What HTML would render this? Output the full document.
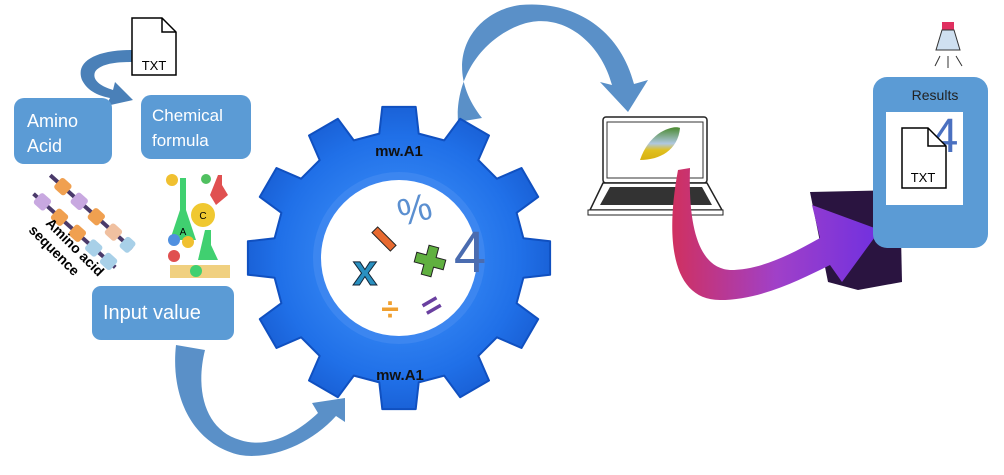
<!DOCTYPE html>
<html><head><meta charset="utf-8"><style>
body{margin:0;background:#fff;width:1004px;height:470px;overflow:hidden;font-family:"Liberation Sans",sans-serif}
</style></head><body>
<svg id="s" width="1004" height="470" viewBox="0 0 1004 470" xmlns="http://www.w3.org/2000/svg">
<defs>
<radialGradient id="gg" cx="50%" cy="50%" r="50%"><stop offset="0.5" stop-color="#2f80f0"/><stop offset="0.8" stop-color="#2070e8"/><stop offset="1" stop-color="#1a62d8"/></radialGradient>
<linearGradient id="pg" x1="0" y1="0" x2="1" y2="0"><stop offset="0" stop-color="#d03060"/><stop offset="0.5" stop-color="#a040c8"/><stop offset="1" stop-color="#7030e0"/></linearGradient>
<linearGradient id="lf" x1="0" y1="0" x2="0" y2="1"><stop offset="0" stop-color="#4a8a30"/><stop offset="0.5" stop-color="#b0c8e0"/><stop offset="0.7" stop-color="#e0c020"/><stop offset="1" stop-color="#d8b010"/></linearGradient>
</defs>
<path d="M132,50 C95,50 75,62 82,80 C88,92 100,96 110,98 L106,106 L133,100 L115,82 L113,90 C100,86 92,80 95,72 C100,64 115,62 132,62 Z" fill="#4a80b8"/>
<path d="M132,18 L162,18 L176,32 L176,75 L132,75 Z" fill="#fff" stroke="#000" stroke-width="1.5"/>
<path d="M162,18 L162,32 L176,32" fill="none" stroke="#000" stroke-width="1.5"/>
<text x="154" y="70" font-size="13" text-anchor="middle">TXT</text>
<rect x="14" y="98" width="98" height="66" rx="10" fill="#5b9bd5"/>
<text x="27" y="127" font-size="18" fill="#fff">Amino</text>
<text x="27" y="152" font-size="18" fill="#fff">Acid</text>
<rect x="141" y="95" width="110" height="64" rx="10" fill="#5b9bd5"/>
<text x="152" y="121" font-size="17" fill="#fff">Chemical</text>
<text x="152" y="146" font-size="17" fill="#fff">formula</text>
<rect x="92" y="286" width="142" height="54" rx="9" fill="#5b9bd5"/>
<text x="103" y="319" font-size="20" fill="#fff">Input value</text>
<g transform="rotate(42 75 215)">
<rect x="30" y="200" width="110" height="4" fill="#4a3a6a"/>
<rect x="30" y="225" width="110" height="4" fill="#4a3a6a"/>
<rect x="40" y="195" width="14" height="14" rx="3" fill="#f0a050"/><rect x="62" y="195" width="14" height="14" rx="3" fill="#c8a8e0"/><rect x="85" y="195" width="14" height="14" rx="3" fill="#f0a050"/><rect x="108" y="195" width="14" height="14" rx="3" fill="#f0c0a0"/><rect x="128" y="195" width="12" height="14" rx="3" fill="#a8d0e8"/>
<rect x="35" y="220" width="14" height="14" rx="3" fill="#c8a8e0"/><rect x="58" y="220" width="14" height="14" rx="3" fill="#f0a050"/><rect x="82" y="220" width="14" height="14" rx="3" fill="#f0a050"/><rect x="104" y="220" width="14" height="14" rx="3" fill="#a8d0e8"/><rect x="124" y="220" width="14" height="14" rx="3" fill="#a8d0e8"/>
</g>
<g transform="rotate(45 40 250)" font-weight="bold" font-size="14">
<text x="25" y="228">Amino acid</text><text x="18" y="245">sequence</text></g>
<g font-size="10" text-anchor="middle">
<rect x="166" y="170" width="68" height="112" fill="#fff"/>
<circle cx="172" cy="180" r="6" fill="#f0c030"/><circle cx="206" cy="179" r="5" fill="#50c060"/>
<path d="M180,178 L186,178 L186,210 L196,240 L170,240 L180,210Z" fill="#40d070"/>
<circle cx="203" cy="215" r="12" fill="#f0c830"/><text x="203" y="219">C</text><text x="183" y="235">A</text>
<path d="M218,175 L222,175 L222,185 L228,195 L216,205 L210,195Z" fill="#e05050"/>
<circle cx="174" cy="240" r="6" fill="#5090e0"/><circle cx="188" cy="242" r="6" fill="#f0c030"/><circle cx="174" cy="256" r="6" fill="#e05050"/>
<path d="M205,230 L211,230 L211,245 L218,260 L198,260 Z" fill="#40d070"/>
<rect x="170" y="265" width="60" height="13" fill="#f0d080"/><circle cx="196" cy="271" r="6" fill="#40d070"/>
</g>
<path d="M176,345 L205,350 C195,390 205,430 240,440 C270,450 300,430 318,413 L312,403 L345,398 L345,422 L336,416 C310,445 270,460 240,455 C195,445 170,400 176,345Z" fill="#5a90c8"/>
<path d="M458,122 C455,80 480,40 520,25 C560,10 600,40 612,85 L600,82 L628,112 L648,80 L634,84 C620,30 575,0 520,5 C470,12 440,65 482,118Z" fill="#5a90c8"/>
<g id="gear"></g>
<circle cx="399" cy="258" r="86" fill="#3c86f0"/>
<circle cx="399" cy="258" r="78" fill="#fff"/>
<text x="399" y="156" font-size="15" font-weight="bold" text-anchor="middle" fill="#111">mw.A1</text>
<text x="400" y="380" font-size="15" font-weight="bold" text-anchor="middle" fill="#111">mw.A1</text>
<text x="418" y="222" font-size="38" fill="#5b8fd0" text-anchor="middle" transform="rotate(-15 418 222)">%</text>
<text x="470" y="272" font-size="58" fill="#4a6cb0" text-anchor="middle">4</text>
<text x="365" y="285" font-size="44" font-weight="bold" fill="#2a90c0" stroke="#123" stroke-width="1" text-anchor="middle">x</text>
<rect x="380" y="226" width="8" height="26" fill="#e86a30" stroke="#222" transform="rotate(-45 384 239)"/>
<path d="M425,246 h10 v10 h10 v10 h-10 v10 h-10 v-10 h-10 v-10 h10z" fill="#60b040" stroke="#222" transform="rotate(15 430 261)"/>
<text x="390" y="320" font-size="32" font-weight="bold" fill="#f0a030" text-anchor="middle">÷</text>
<text x="432" y="316" font-size="32" font-weight="bold" fill="#6a40a0" text-anchor="middle" transform="rotate(-30 432 306)">=</text>
<rect x="603" y="117" width="104" height="66" rx="3" fill="#fff" stroke="#222" stroke-width="1.5"/>
<rect x="607" y="122" width="96" height="56" fill="#fff" stroke="#333"/>
<path d="M603,183 L590,210 L722,210 L707,183Z" fill="#fff" stroke="#222" stroke-width="1.5"/>
<path d="M610,187 L600,205 L712,205 L702,187Z" fill="#333"/>
<rect x="588" y="210" width="135" height="5" fill="#fff" stroke="#222"/>
<path d="M640,160 C650,130 675,125 680,128 C678,150 660,160 640,160Z" fill="url(#lf)"/>
<path d="M810,192 L900,190 L902,282 L858,290 L828,282 Z" fill="#2a1440"/>
<path d="M690,168 L678,170 C665,240 672,300 720,300 C760,300 800,280 830,265 L842,282 L880,230 L812,205 L820,238 C790,255 760,270 730,270 C700,268 688,230 690,168Z" fill="url(#pg)"/>
<rect x="873" y="77" width="115" height="171" rx="14" fill="#5b9bd5"/>
<text x="935" y="100" font-size="14" text-anchor="middle" fill="#222">Results</text>
<rect x="886" y="112" width="77" height="93" fill="#fff"/>
<text x="945" y="152" font-size="48" fill="#4a70c0" text-anchor="middle">4</text>
<path d="M902,128 L928,128 L946,146 L946,188 L902,188Z" fill="#fff" stroke="#000" stroke-width="1.5"/>
<path d="M928,128 L928,146 L946,146" fill="none" stroke="#000" stroke-width="1.5"/>
<text x="923" y="182" font-size="13" text-anchor="middle">TXT</text>
<rect x="942" y="22" width="12" height="8" fill="#e03060"/>
<path d="M942,30 L954,30 L960,50 L936,50Z" fill="#cfe0f0" stroke="#333"/>
<path d="M940,56 L935,66 M948,56 L948,68 M956,56 L962,66" stroke="#333"/>
</svg>
<script>
var cx=399,cy=258,Ro=152,Ri=126,n=12,p="";
for(var i=0;i<n;i++){var a=i*2*Math.PI/n-Math.PI/2,w=Math.PI/n;
var pts=[[a-w*0.6,Ri],[a-w*0.42,Ro],[a+w*0.42,Ro],[a+w*0.6,Ri],[a+w*1.4,Ri]];
pts.forEach(function(q,j){p+=(i==0&&j==0?"M":"L")+(cx+q[1]*Math.cos(q[0])).toFixed(1)+","+(cy+q[1]*Math.sin(q[0])).toFixed(1);});}
p+="Z";
document.getElementById("gear").innerHTML='<path d="'+p+'" fill="url(#gg)" stroke="#1050c0" stroke-width="2" stroke-linejoin="round"/>';
</script>
</body></html>
